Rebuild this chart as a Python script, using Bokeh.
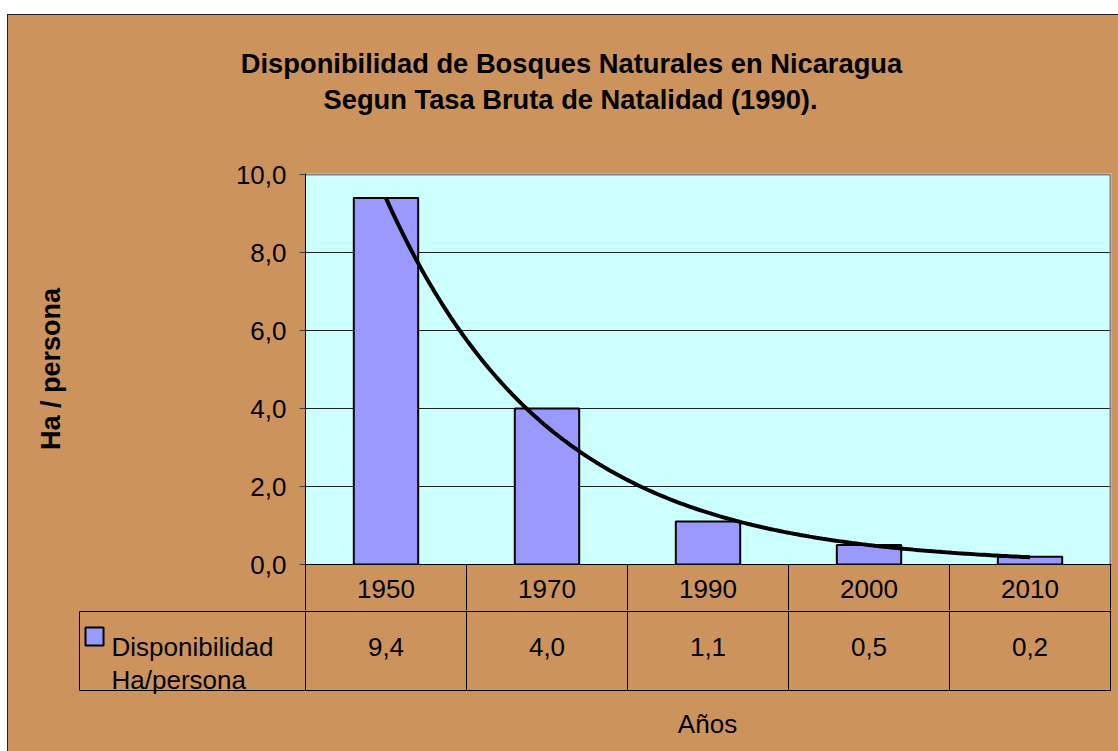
import numpy as np
from bokeh.plotting import figure
from bokeh.models import FixedTicker, Range1d, Spacer, ColumnDataSource
from bokeh.layouts import column, row
from bokeh.embed import file_html
from bokeh.resources import INLINE
from bokeh.core.properties import value

# ---------------- data ----------------
years = ["1950", "1970", "1990", "2000", "2010"]
values = [9.4, 4.0, 1.1, 0.5, 0.2]
value_labels = ["9,4", "4,0", "1,1", "0,5", "0,2"]
y_ticks = [0, 2, 4, 6, 8, 10]
y_tick_labels = ["0,0", "2,0", "4,0", "6,0", "8,0", "10,0"]
title_lines = ["Disponibilidad de Bosques Naturales en Nicaragua",
               "Segun Tasa Bruta de Natalidad (1990)."]
series_name = ["Disponibilidad", "Ha/persona"]
x_title = "Años"
y_title = "Ha / persona"

xpos = list(range(1, len(years) + 1))
bounds = [x - 0.5 for x in xpos] + [xpos[-1] + 0.5]

# exponential trend line (least squares on ln y, like a spreadsheet trendline)
b, a = np.polyfit(xpos, np.log(values), 1)
tx = np.linspace(xpos[0], xpos[-1], 200)
ty = np.exp(a + b * tx)

# ---------------- styling / layout ----------------
FONT = "Liberation Sans"
WOOD = "#CC935D"
CYAN = "#CCFFFF"
BAR = "#9999FF"
W = 1110

FRAME_L, FRAME_T, FRAME_R, FRAME_B = 305, 174, 1110, 564   # page px of plot area
PX_X = (FRAME_R - FRAME_L) / 5.0
PX_Y = (FRAME_B - FRAME_T) / 10.0
TOP0, SPLIT1, SPLIT2, BOTTOM = 15, 130, 610, 751


def dx(px):  # page x -> data x
    return 0.5 + (px - FRAME_L) / PX_X


def dy(py):  # page y -> data y
    return (FRAME_B - py) / PX_Y


def plain(h, xr, yr):
    f = figure(width=W, height=h, x_range=xr, y_range=yr,
               output_backend="svg", toolbar_location=None,
               x_axis_location=None, y_axis_location=None, min_border=0,
               background_fill_color=WOOD, border_fill_color=WOOD,
               outline_line_color=None, frame_align=False)
    f.xgrid.visible = False
    f.ygrid.visible = False
    return f


# ---------- title band ----------
p0 = plain(SPLIT1 - TOP0, Range1d(8, 8 + W), Range1d(SPLIT1, TOP0))
p0.text(x=[571, 570], y=[63, 99], text=title_lines, text_align="center",
        text_baseline="alphabetic", text_font=value(FONT),
        text_font_size=value("27.3px"), text_font_style="bold", text_color="black")

# ---------- chart ----------
p1 = figure(width=W, height=SPLIT2 - SPLIT1,
            x_range=Range1d(0.5, 5.5 + 1 / PX_X),
            y_range=Range1d(0, 10 + 1 / PX_Y),
            output_backend="svg", toolbar_location=None,
            min_border_left=FRAME_L - 8, min_border_right=8 + W - FRAME_R - 1,
            min_border_top=FRAME_T - 1 - SPLIT1, min_border_bottom=SPLIT2 - FRAME_B,
            background_fill_color=CYAN, border_fill_color=WOOD,
            outline_line_color=None, frame_align=False)

src = ColumnDataSource(dict(x=xpos, top=values))
p1.vbar(x="x", top="top", width=0.4, source=src, fill_color=BAR,
        line_color="black", line_width=2)
p1.line(tx, ty, line_color="black", line_width=4)
# plot-area border (top and right, grey)
p1.segment(x0=[0.5, 5.5], y0=[10, 0], x1=[5.5, 5.5], y1=[10, 10],
           line_color="#808080", line_width=2)

p1.yaxis.ticker = FixedTicker(ticks=y_ticks)
p1.yaxis.major_label_overrides = {t: l for t, l in zip(y_ticks, y_tick_labels)}
p1.yaxis.minor_tick_line_color = None
p1.yaxis.major_tick_out = 6
p1.yaxis.major_tick_in = 0
p1.yaxis.major_tick_line_color = "#404040"
p1.yaxis.axis_line_color = "black"
p1.yaxis.major_label_standoff = 13
p1.yaxis.major_label_text_font = FONT
p1.yaxis.major_label_text_font_size = "26px"
p1.yaxis.major_label_text_color = "black"
p1.yaxis.axis_label = y_title
p1.yaxis.axis_label_text_font = FONT
p1.yaxis.axis_label_text_font_size = "27px"
p1.yaxis.axis_label_text_font_style = "bold"
p1.yaxis.axis_label_text_color = "black"
p1.yaxis.axis_label_standoff = 167

# category axis: years as labels, minor ticks drawn as the table's cell borders
p1.xaxis.ticker = FixedTicker(ticks=xpos, minor_ticks=bounds)
p1.xaxis.major_label_overrides = {x: y for x, y in zip(xpos, years)}
p1.xaxis.major_tick_line_color = None
p1.xaxis.major_tick_out = 0
p1.xaxis.major_tick_in = 0
p1.xaxis.minor_tick_line_color = "black"
p1.xaxis.minor_tick_out = SPLIT2 - FRAME_B
p1.xaxis.minor_tick_in = 0
p1.xaxis.axis_line_color = "black"
p1.xaxis.major_label_standoff = -31
p1.xaxis.major_label_text_font = FONT
p1.xaxis.major_label_text_font_size = "26px"
p1.xaxis.major_label_text_color = "black"

p1.xgrid.grid_line_color = None
p1.ygrid.ticker = FixedTicker(ticks=y_ticks[:-1])
p1.ygrid.grid_line_color = "#202020"
p1.ygrid.grid_line_width = 1

# ---------- data table / legend / x title ----------
ROW1_B, ROW2_B, LEG_L = 611, 690, 79
p2 = plain(BOTTOM - SPLIT2, Range1d(dx(8), dx(8 + W)), Range1d(dy(BOTTOM), dy(SPLIT2)))
# vertical cell borders
p2.segment(x0=bounds, y0=[dy(SPLIT2)] * len(bounds), x1=bounds,
           y1=[dy(ROW2_B)] * len(bounds), line_color="black", line_width=1)
p2.segment(x0=[dx(LEG_L)], y0=[dy(ROW1_B)], x1=[dx(LEG_L)], y1=[dy(ROW2_B)],
           line_color="black", line_width=1)
# horizontal cell borders
p2.segment(x0=[dx(LEG_L)] * 2, y0=[dy(ROW1_B), dy(ROW2_B)],
           x1=[bounds[-1]] * 2, y1=[dy(ROW1_B), dy(ROW2_B)],
           line_color="black", line_width=1)
# values
p2.text(x=xpos, y=[dy(646)] * len(xpos), text=value_labels, text_align="center",
        text_baseline="alphabetic", text_font=value(FONT),
        text_font_size=value("26px"), text_color="black")
# legend key
p2.quad(left=[dx(85)], right=[dx(103)], top=[dy(627)], bottom=[dy(645)],
        fill_color=BAR, line_color="black", line_width=2)
p2.text(x=[dx(111)] * 2, y=[dy(646), dy(679)], text=series_name, text_align="left",
        text_baseline="alphabetic", text_font=value(FONT),
        text_font_size=value("26px"), text_color="black")
# x title
p2.text(x=[dx(707)], y=[dy(723)], text=[x_title], text_align="center",
        text_baseline="alphabetic", text_font=value(FONT),
        text_font_size=value("26px"), text_color="black")

charts = column(p0, p1, p2, styles={"background-color": WOOD,
                                    "outline": "1px solid #222222"})
layout = column(Spacer(width=W + 8, height=TOP0),
                row(Spacer(width=8, height=BOTTOM - TOP0), charts))
open("out.html", "w").write(file_html(layout, INLINE))
